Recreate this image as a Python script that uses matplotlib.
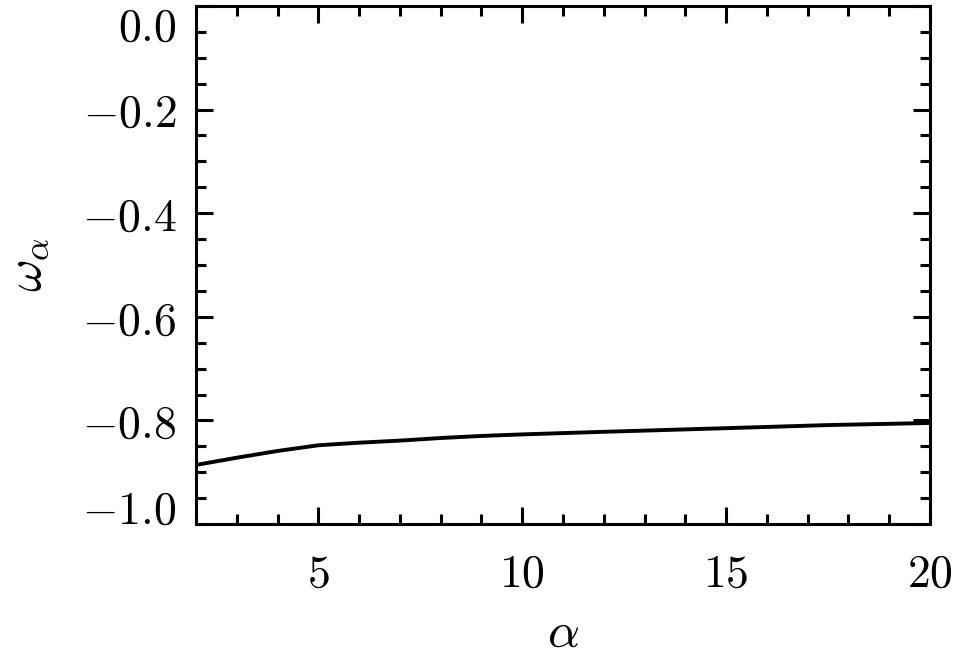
import matplotlib
matplotlib.use('Agg')
import matplotlib.pyplot as plt
from matplotlib.ticker import MultipleLocator, FuncFormatter

# values
alpha = [2, 3, 4, 5, 6, 7, 8, 9, 10, 12, 15, 17.5, 20]
omega = [-0.886, -0.872, -0.859, -0.848, -0.843, -0.839, -0.834, -0.830, -0.827,
         -0.822, -0.815, -0.809, -0.805]

xticks = [5, 10, 15, 20]
yticks = [0.0, -0.2, -0.4, -0.6, -0.8, -1.0]

plt.rcParams['mathtext.fontset'] = 'cm'
plt.rcParams['font.family'] = 'serif'

fig = plt.figure(figsize=(9.58, 6.56), dpi=100)
ax = fig.add_axes([0.2046, 0.2012, 0.7662, 0.7897])

ax.plot(alpha, omega, color='black', lw=2.8)

ax.set_xlim(2, 20)
ax.set_ylim(-1.0, 0.0)
ax.set_xticks(xticks)
ax.set_yticks(yticks)
ax.xaxis.set_minor_locator(MultipleLocator(1))
ax.yaxis.set_minor_locator(MultipleLocator(0.05))

ax.xaxis.set_major_formatter(FuncFormatter(lambda v, p: r'$%d$' % round(v)))
ax.yaxis.set_major_formatter(FuncFormatter(lambda v, p: r'$%.1f$' % v if abs(v) > 1e-9 else r'$0.0$'))

ax.tick_params(which='both', direction='in', top=True, right=True, width=2.2,
               labelsize=33, colors='black')
ax.tick_params(which='major', length=12)
ax.tick_params(which='minor', length=7)
ax.tick_params(axis='y', pad=14)
ax.tick_params(axis='x', pad=20)
for s in ax.spines.values():
    s.set_linewidth(2.2)

fig.canvas.draw()
for lab in ax.get_yticklabels():
    t = lab.get_text()
    if t == r'$0.0$':
        lab.set_va('top')
    elif t == r'$-1.0$':
        lab.set_va('baseline')

ax.set_xlabel(r'$\alpha$', fontsize=36, labelpad=8)
ax.set_ylabel(r'$\omega_\alpha$', fontsize=36, labelpad=22)

fig.savefig('out.png', dpi=100)
